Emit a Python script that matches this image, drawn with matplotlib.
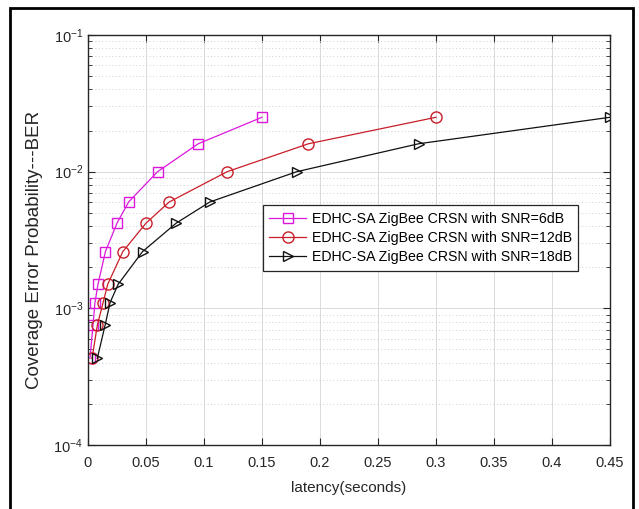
import matplotlib
matplotlib.use("Agg")
import matplotlib.pyplot as plt
from matplotlib.patches import Rectangle
from matplotlib.ticker import LogLocator, NullFormatter

plt.rcParams['font.family'] = ['Liberation Sans', 'DejaVu Sans']
plt.rcParams['mathtext.fontset'] = 'custom'
plt.rcParams['mathtext.rm'] = 'Liberation Sans'
plt.rcParams['mathtext.it'] = 'Liberation Sans'
plt.rcParams['axes.unicode_minus'] = False

# BER levels shared by all three curves
ber = [0.00043, 0.00075, 0.0011, 0.0015, 0.0026, 0.0042, 0.006, 0.01, 0.016, 0.025]
lat_6db = [0.0017, 0.0043, 0.006, 0.0086, 0.015, 0.025, 0.035, 0.06, 0.095, 0.15]
lat_12db = [0.0035, 0.008, 0.013, 0.017, 0.03, 0.05, 0.07, 0.12, 0.19, 0.30]
lat_18db = [0.008, 0.0147, 0.019, 0.026, 0.047, 0.076, 0.105, 0.18, 0.285, 0.45]
labels = ["EDHC-SA ZigBee CRSN with SNR=6dB",
          "EDHC-SA ZigBee CRSN with SNR=12dB",
          "EDHC-SA ZigBee CRSN with SNR=18dB"]
xticks = [0, 0.05, 0.1, 0.15, 0.2, 0.25, 0.3, 0.35, 0.4, 0.45]
xticklabels = ['0', '0.05', '0.1', '0.15', '0.2', '0.25', '0.3', '0.35', '0.4', '0.45']

fig = plt.figure(figsize=(6.39, 5.09), dpi=100)
ax = fig.add_axes([88/639, 1-445/509, 522/639, 410/509])

tc = '#262626'
ax.plot(lat_6db, ber, color='#dd18dd', marker='s', ms=7, mfc='none', lw=0.9, label=labels[0])
ax.plot(lat_12db, ber, color='#c81e28', marker='o', ms=8, mfc='none', lw=0.9, label=labels[1])
ax.plot(lat_18db, ber, color='#111111', marker='>', ms=7, mfc='none', lw=0.9, label=labels[2])

ax.set_yscale('log')
ax.set_xlim(0, 0.45)
ax.set_ylim(1e-4, 1e-1)
ax.set_xticks(xticks)
ax.set_xticklabels(xticklabels)
ax.yaxis.set_major_locator(LogLocator(base=10, numticks=10))
ax.yaxis.set_minor_locator(LogLocator(base=10, subs=range(2, 10), numticks=20))
ax.yaxis.set_minor_formatter(NullFormatter())

ax.grid(True, which='major', color='#dadada', lw=0.7, ls='-')
ax.grid(True, which='minor', axis='y', color='#cfcfcf', lw=0.7, ls=(0, (1, 2.5)))
ax.set_axisbelow(True)

ax.tick_params(which='both', direction='in', top=True, right=True, colors=tc, labelsize=10.5)
ax.tick_params(which='major', length=5, width=0.8)
ax.tick_params(which='minor', length=3, width=0.6)
ax.tick_params(axis='x', pad=8)
for s in ax.spines.values():
    s.set_color(tc)
    s.set_linewidth(1.0)

ax.set_xlabel('latency(seconds)', fontsize=11, color=tc, labelpad=8)
ax.set_ylabel('Coverage Error Probability---BER', fontsize=13.5, color=tc)
ax.yaxis.set_label_coords(-0.086, 0.476)

leg = ax.legend(loc='upper left', bbox_to_anchor=(0.335, 0.585), borderaxespad=0,
                fontsize=10.2, fancybox=False, framealpha=1, edgecolor=tc,
                handlelength=2.6, handletextpad=0.4, borderpad=0.45, labelspacing=0.38)
leg.get_frame().set_linewidth(0.9)

# outer frame around the figure
fig.add_artist(Rectangle((10/639, -0.05), 623/639, (509-8)/509 + 0.05,
                         transform=fig.transFigure, fill=False, lw=2, color='k'))

fig.savefig('out.png', dpi=100)
